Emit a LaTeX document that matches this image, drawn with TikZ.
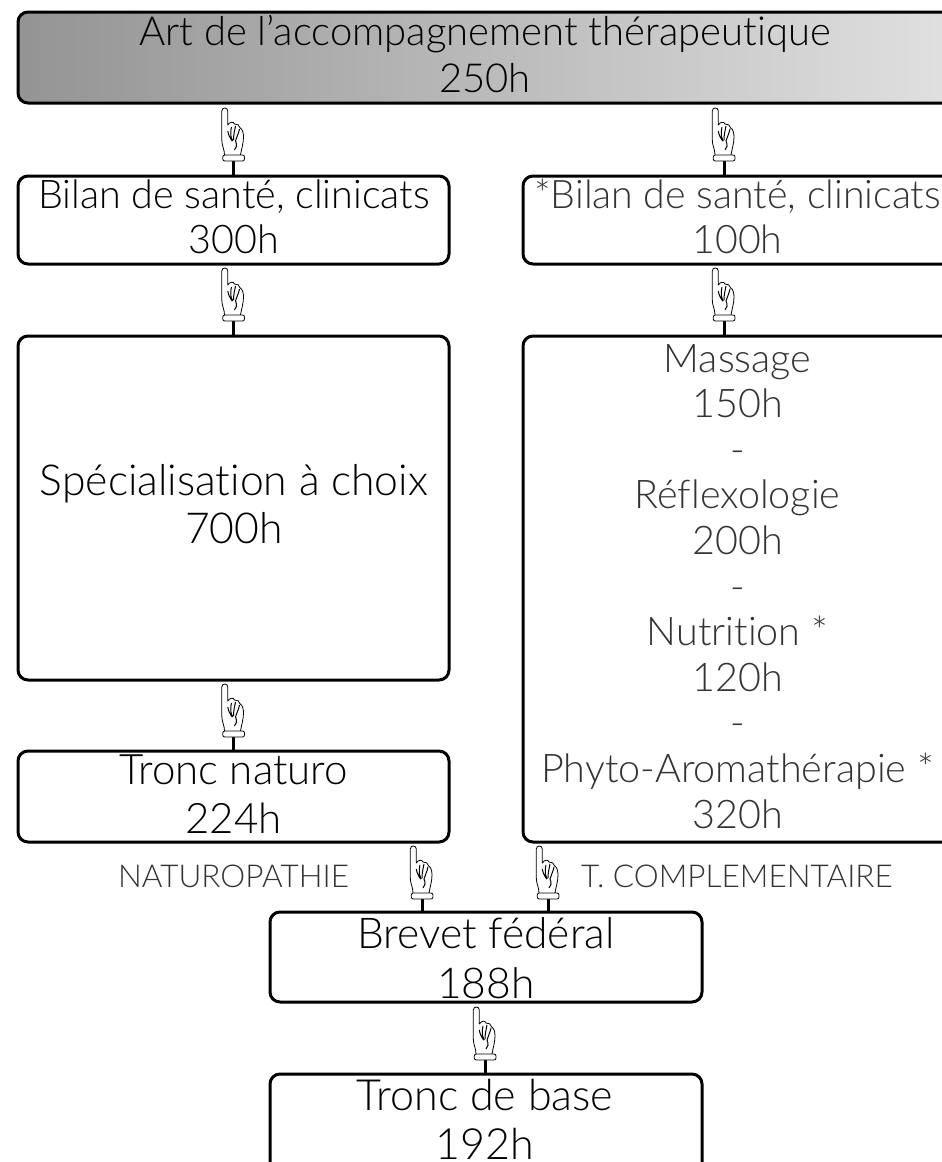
\documentclass[tikz,border=0pt]{standalone}
\usepackage{fontspec}
\setmainfont{Lato Light}[Ligatures=NoCommon]
\definecolor{txtgris}{HTML}{333333}
\tikzset{
	boite/.style={draw=black,line width=3pt,rounded corners=10pt,inner sep=0pt},
	gros/.style n args={2}{align=center,anchor=base,font=\fontsize{#1}{#2}\selectfont,inner sep=0pt},
	titre/.style={anchor=base,font=\fontsize{31.5}{34}\selectfont,text=txtgris,inner sep=0pt},
	tige/.style={line width=3pt},
	handup/.pic={
		\draw[line width=0.8pt,fill=white,line join=round] (-9,-6) .. controls (-9,-12) and (-11.7,-15) .. (-11.7,-21) -- (-11.7,-50) .. controls (-11.7,-54) and (-5.7,-54) .. (-5.7,-50) -- (-5.7,-36) .. controls (-4,-39) and (0,-40) .. (1,-37) .. controls (4,-37) and (6,-36) .. (6.7,-33) .. controls (9,-32) and (10,-28) .. (10,-24) .. controls (10,-18) and (8,-12) .. (7,-6);
		\draw[line width=1pt] (-2,-34) .. controls (-3,-30) and (-3,-26) .. (-2,-22) (2,-35) .. controls (1,-30) and (0,-26) .. (0,-21) (6,-32) .. controls (5,-27) and (3,-24) .. (2,-20) (-5.7,-30) .. controls (-5,-26) and (-4,-24) .. (-2,-21) (2,-20) .. controls (4,-16) and (3,-13) .. (1,-11);
		\draw[line width=1.6pt] (-3,-24) -- (-1,-20);
		\draw[line width=0.8pt,fill=white,rounded corners=2pt] (-10.7,-6) rectangle (11,0);
	}
}
\begin{document}
\begin{tikzpicture}[x=1pt,y=-1pt]
	\useasboundingbox (0,0) rectangle (942,1162);
	\clip (0,0) rectangle (942,1162);

	% boites
	\node[boite,left color=black!42,right color=black!12,minimum width=936pt,minimum height=91pt] (art) at (486,57.5) {};
	\node[gros={40}{47}] (arttxt) at (485,92) {Art de l’accompagnement thérapeutique\\250h};

	\node[boite,minimum width=431pt,minimum height=88pt] (bilanG) at (233.5,220) {};
	\node[gros={39.5}{45}] (bilanGtxt) at (234,253) {Bilan de santé, clinicats\\300h};
	\node[boite,minimum width=431pt,minimum height=88pt] (bilanD) at (738.5,220) {};
	\node[gros={39.3}{45},text=txtgris] (bilanDtxt) at (737.5,253) {*Bilan de santé, clinicats\\100h};

	\node[boite,minimum width=431pt,minimum height=344pt] (spec) at (233.5,508) {};
	\node[gros={42.7}{48}] (spectxt) at (234,543) {Spécialisation à choix\\700h};
	\node[boite,minimum width=431pt,minimum height=506pt] (massage) at (738.5,589) {};
	\node[gros={39.5}{45.6},text=txtgris] (massagetxt) at (737.5,828) {Massage\\150h\\-\\Réflexologie\\200h\\-\\Nutrition *\\120h\\-\\Phyto-Aromathérapie *\\320h};

	\node[boite,minimum width=431pt,minimum height=91pt] (naturo) at (233.5,796.5) {};
	\node[gros={42}{49}] (naturotxt) at (233.5,833) {Tronc naturo\\224h};

	\node[boite,minimum width=432pt,minimum height=90pt] (brevet) at (486,957) {};
	\node[gros={42.5}{50}] (brevettxt) at (486,998) {Brevet fédéral\\188h};
	\node[boite,minimum width=432pt,minimum height=106pt] (base) at (486,1127) {};
	\node[gros={43}{49}] (basetxt) at (485,1159) {Tronc de base\\192h};

	\node[titre] (natlab) at (233.5,887) {NATUROPATHIE};
	\node[titre] (complab) at (737,887) {T. COMPLEMENTAIRE};

	% mains
	\coordinate (mainA) at (233.5,161);
	\coordinate (mainB) at (724,161);
	\coordinate (mainC) at (233.5,321);
	\coordinate (mainD) at (724,321);
	\coordinate (mainE) at (233.5,737);
	\coordinate (mainF) at (422,899);
	\coordinate (mainG) at (548,899);
	\coordinate (mainH) at (485,1060);

	\draw[tige] (mainA) -- (bilanG.north);
	\draw[tige] (mainB) -- (mainB |- bilanD.north);
	\draw[tige] (mainC) -- (spec.north);
	\draw[tige] (mainD) -- (mainD |- massage.north);
	\draw[tige] (mainE) -- (naturo.north);
	\draw[tige] (mainF) -- (mainF |- brevet.north);
	\draw[tige] (mainG) -- (mainG |- brevet.north);
	\draw[tige] (mainH) -- (mainH |- base.north);

	\foreach \m in {mainA,mainB,mainC,mainD,mainE,mainF,mainG,mainH}
		\pic at (\m) {handup};
\end{tikzpicture}
\end{document}
